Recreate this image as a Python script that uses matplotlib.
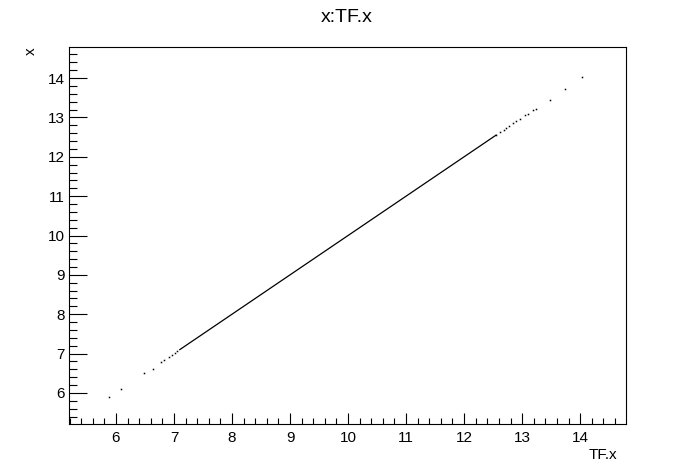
import numpy as np
import matplotlib
matplotlib.use('Agg')
import matplotlib.pyplot as plt
from matplotlib.ticker import MultipleLocator

plt.rcParams['font.family'] = ['Liberation Sans', 'DejaVu Sans']

# sparse points at the ends of the distribution (TF.x, x)
sparse_tfx = [5.88, 6.09, 6.49, 6.63, 6.77, 6.82, 6.91, 6.96, 7.02, 7.06,
              12.55, 12.62, 12.68, 12.72, 12.78, 12.85, 12.90, 12.97, 13.05,
              13.10, 13.19, 13.24, 13.48, 13.74, 14.04]
sparse_x = [5.89, 6.09, 6.51, 6.62, 6.79, 6.83, 6.92, 6.96, 7.02, 7.06,
            12.55, 12.62, 12.68, 12.72, 12.78, 12.85, 12.90, 12.97, 13.05,
            13.10, 13.18, 13.22, 13.45, 13.73, 14.03]
# dense core, drawn as a continuous band of points
dense_tfx = [7.10, 12.55]
dense_x = [7.10, 12.55]

xlim = (5.19, 14.79)
ylim = (5.21, 14.79)

fig = plt.figure(figsize=(6.96, 4.72), dpi=100)
ax = fig.add_axes([0.0991, 0.1017, 0.8003, 0.7987])

ax.plot(dense_tfx, dense_x, color='black', lw=0.9)
ax.plot(sparse_tfx, sparse_x, linestyle='none', marker='s', ms=1.1,
        mfc='black', mec='black', mew=0)

ax.set_xlim(*xlim)
ax.set_ylim(*ylim)

ax.xaxis.set_major_locator(MultipleLocator(1))
ax.xaxis.set_minor_locator(MultipleLocator(0.2))
ax.yaxis.set_major_locator(MultipleLocator(1))
ax.yaxis.set_minor_locator(MultipleLocator(0.2))

ax.tick_params(axis='x', which='major', direction='in', length=8, width=0.8,
               labelsize=11, pad=5)
ax.tick_params(axis='x', which='minor', direction='in', length=4, width=0.8)
ax.tick_params(axis='y', which='major', direction='in', length=13, width=0.8,
               labelsize=11, pad=3)
ax.tick_params(axis='y', which='minor', direction='in', length=6, width=0.8)
for s in ax.spines.values():
    s.set_linewidth(0.8)

fig.text(0.498, 0.962, 'x:TF.x', ha='center', va='center', fontsize=14)
fig.text(0.887, 0.036, 'TF.x', ha='right', va='center', fontsize=11)
fig.text(0.044, 0.892, 'x', ha='center', va='center', fontsize=11, rotation=90)

plt.savefig('out.png', dpi=100)
